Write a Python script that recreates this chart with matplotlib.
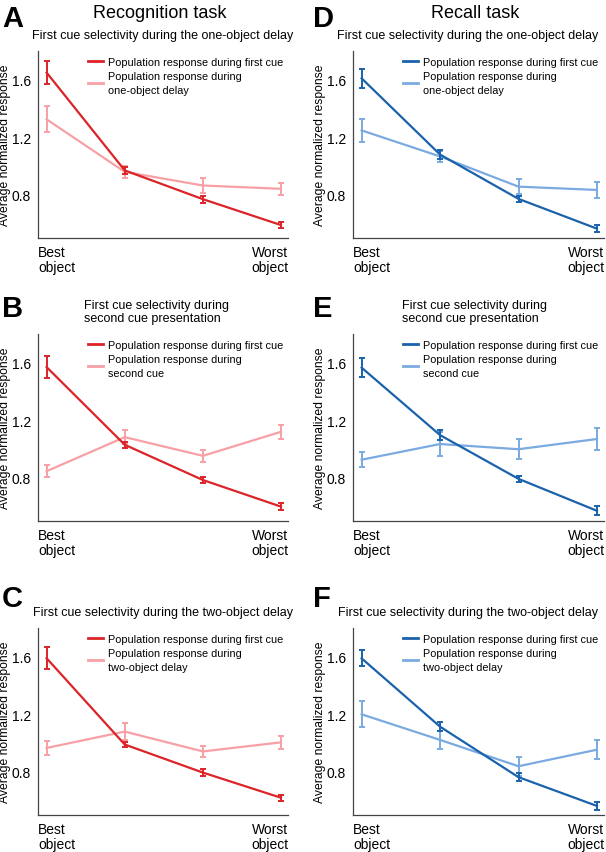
import matplotlib
matplotlib.use("Agg")
import matplotlib.pyplot as plt
from matplotlib.lines import Line2D

plt.rcParams["font.family"] = ["Liberation Sans", "DejaVu Sans"]

# object rank positions (best -> worst)
ranks = [1, 2, 3, 4]

# Recognition task (A, B, C)
rec_first = [[1.65, 0.97, 0.77, 0.59],
             [1.57, 1.03, 0.785, 0.60],
             [1.59, 0.99, 0.795, 0.62]]
rec_first_err = [[0.08, 0.025, 0.025, 0.022],
                 [0.075, 0.022, 0.022, 0.022],
                 [0.077, 0.02, 0.022, 0.022]]
rec_other = [[1.325, 0.96, 0.865, 0.842],
             [0.846, 1.083, 0.953, 1.12],
             [0.966, 1.08, 0.942, 1.005]]
rec_other_err = [[0.09, 0.04, 0.05, 0.04],
                 [0.042, 0.05, 0.04, 0.05],
                 [0.05, 0.06, 0.038, 0.043]]

# Recall task (D, E, F)
recall_first = [[1.61, 1.08, 0.772, 0.565],
                [1.566, 1.097, 0.793, 0.571],
                [1.589, 1.114, 0.763, 0.563]]
recall_first_err = [[0.065, 0.03, 0.022, 0.025],
                    [0.066, 0.035, 0.022, 0.03],
                    [0.056, 0.03, 0.028, 0.03]]
recall_other = [[1.248, 1.067, 0.857, 0.834],
                [0.926, 1.035, 0.999, 1.07],
                [1.20, 1.022, 0.839, 0.954]]
recall_other_err = [[0.08, 0.04, 0.05, 0.055],
                    [0.053, 0.085, 0.07, 0.075],
                    [0.09, 0.063, 0.065, 0.066]]

titles = ["First cue selectivity during the one-object delay",
          "First cue selectivity during\nsecond cue presentation",
          "First cue selectivity during the two-object delay"]
first_label = "Population response during first cue"
other_labels = ["Population response during\none-object delay",
                "Population response during\nsecond cue",
                "Population response during\ntwo-object delay"]
letters = [["A", "B", "C"], ["D", "E", "F"]]
col_titles = ["Recognition task", "Recall task"]
yticks = [0.8, 1.2, 1.6]
xlabels = ["Best\nobject", "Worst\nobject"]

colors = [("#dc2428", "#f7a0a5"), ("#1a62ab", "#7aaae0")]
data = [(rec_first, rec_first_err, rec_other, rec_other_err),
        (recall_first, recall_first_err, recall_other, recall_other_err)]

W, H = 606, 853
fig = plt.figure(figsize=(W / 100, H / 100), dpi=100)

col_left = [38, 353]
col_width = [250, 251]
row_top = [52, 335, 629]
letter_x = [2, 313]
letter_top = [5, 295, 585]
title_x = [[0.5, 0.472, 0.5], [0.458, 0.486, 0.458]]
ax_h = 187

for c in range(2):
    dark, light = colors[c]
    first, first_err, other, other_err = data[c]
    for r in range(3):
        top = row_top[r]
        ax = fig.add_axes([col_left[c] / W, (H - top - ax_h) / H,
                           col_width[c] / W, ax_h / H])
        ax.errorbar(ranks, other[r], yerr=other_err[r], color=light, lw=1.6,
                    capsize=2.5, capthick=1.4, elinewidth=1.4, zorder=2)
        ax.errorbar(ranks, first[r], yerr=first_err[r], color=dark, lw=1.6,
                    capsize=2.5, capthick=1.4, elinewidth=1.4, zorder=3)
        ax.set_xlim(0.89, 4.09)
        ax.set_ylim(0.5, 1.8)
        ax.set_yticks(yticks)
        ax.set_yticklabels([f"{v:.1f}" for v in yticks])
        ax.set_xticks([])
        ax.tick_params(axis="y", length=0, pad=5, labelsize=10)
        for s in ["top", "right"]:
            ax.spines[s].set_visible(False)
        for s in ["left", "bottom"]:
            ax.spines[s].set_color("#444444")
            ax.spines[s].set_linewidth(0.9)
        ax.set_ylabel("Average normalized response", fontsize=8.7)
        ax.yaxis.set_label_coords(-0.108, 0.5)
        ax.text(0, -0.04, xlabels[0], transform=ax.transAxes, ha="left",
                va="top", fontsize=10, linespacing=1.05)
        ax.text(1, -0.04, xlabels[1], transform=ax.transAxes, ha="right",
                va="top", fontsize=10, linespacing=1.05)
        ax.set_title(titles[r], fontsize=9, pad=9, ma="left", x=title_x[c][r])
        handles = [Line2D([], [], color=dark, lw=2),
                   Line2D([], [], color=light, lw=2)]
        leg = ax.legend(handles, [first_label, other_labels[r]],
                        loc="upper left", bbox_to_anchor=(0.2, 0.97),
                        frameon=False, fontsize=7.8, handlelength=1.4,
                        handletextpad=0.4, borderpad=0, borderaxespad=0,
                        labelspacing=0.4)
        for t in leg.get_texts():
            t.set_linespacing(1.45)
        fig.text(letter_x[c] / W, 1 - letter_top[r] / H, letters[c][r],
                 fontsize=21, fontweight="bold", va="top", ha="left")
    fig.text((col_left[c] + col_width[c] / 2 - 3) / W, 1 - 14 / H, col_titles[c],
             fontsize=13, ha="center", va="center")

plt.savefig("out.png", dpi=100)
plt.close()
